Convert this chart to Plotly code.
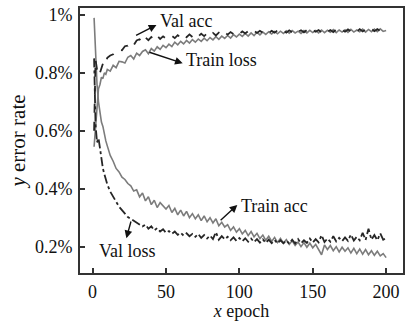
import plotly.graph_objects as go

# x positions (epochs)
epochs = list(range(1, 11)) + list(range(12, 201, 2))

train_loss = [
    0.545, 0.625, 0.700, 0.745, 0.760, 0.785, 0.780, 0.800, 0.795, 0.812,
    0.806, 0.826, 0.818, 0.840, 0.838, 0.834, 0.854, 0.860, 0.848, 0.868,
    0.860, 0.874, 0.880, 0.866, 0.884, 0.875, 0.890, 0.881, 0.895, 0.887,
    0.899, 0.891, 0.906, 0.897, 0.909, 0.900, 0.912, 0.903, 0.915, 0.906,
    0.917, 0.909, 0.920, 0.911, 0.922, 0.914, 0.925, 0.916, 0.927, 0.919,
    0.929, 0.920, 0.932, 0.924, 0.934, 0.926, 0.936, 0.927, 0.938, 0.929,
    0.940, 0.931, 0.941, 0.933, 0.942, 0.934, 0.943, 0.935, 0.944, 0.936,
    0.945, 0.937, 0.946, 0.938, 0.944, 0.936, 0.946, 0.938, 0.947, 0.939,
    0.946, 0.938, 0.948, 0.939, 0.947, 0.940, 0.949, 0.939, 0.948, 0.941,
    0.949, 0.940, 0.950, 0.941, 0.948, 0.942, 0.951, 0.941, 0.950, 0.942,
    0.951, 0.942, 0.952, 0.943, 0.946,
]

val_acc = [
    0.600, 0.845, 0.812, 0.792, 0.800, 0.818, 0.832, 0.842, 0.836, 0.852,
    0.860, 0.864, 0.875, 0.880, 0.878, 0.892, 0.894, 0.905, 0.896, 0.912,
    0.916, 0.906, 0.922, 0.913, 0.924, 0.915, 0.928, 0.917, 0.926, 0.918,
    0.919, 0.928, 0.920, 0.930, 0.922, 0.932, 0.923, 0.933, 0.924, 0.934,
    0.926, 0.935, 0.927, 0.936, 0.928, 0.938, 0.929, 0.939, 0.931, 0.940,
    0.932, 0.941, 0.934, 0.942, 0.935, 0.943, 0.936, 0.944, 0.937, 0.945,
    0.938, 0.945, 0.939, 0.946, 0.938, 0.945, 0.939, 0.947, 0.940, 0.946,
    0.939, 0.947, 0.940, 0.948, 0.941, 0.947, 0.940, 0.948, 0.941, 0.949,
    0.942, 0.948, 0.940, 0.949, 0.942, 0.948, 0.941, 0.950, 0.943, 0.949,
    0.942, 0.950, 0.943, 0.949, 0.942, 0.951, 0.943, 0.950, 0.944, 0.952,
    0.944, 0.951, 0.945, 0.952, 0.948,
]

train_acc = [
    0.990, 0.850, 0.760, 0.700, 0.665, 0.630, 0.615, 0.585, 0.565, 0.548,
    0.515, 0.495, 0.470, 0.458, 0.440, 0.432, 0.418, 0.410, 0.392, 0.396,
    0.372, 0.385, 0.358, 0.372, 0.345, 0.360, 0.335, 0.352, 0.340, 0.330,
    0.342, 0.318, 0.332, 0.310, 0.326, 0.306, 0.322, 0.300, 0.314, 0.296,
    0.310, 0.290, 0.306, 0.286, 0.300, 0.282, 0.296, 0.272, 0.284, 0.268,
    0.276, 0.256, 0.268, 0.250, 0.262, 0.244, 0.256, 0.238, 0.252, 0.234,
    0.246, 0.228, 0.240, 0.222, 0.236, 0.218, 0.232, 0.214, 0.228, 0.212,
    0.224, 0.208, 0.220, 0.204, 0.216, 0.200, 0.214, 0.198, 0.212, 0.196,
    0.208, 0.192, 0.172, 0.206, 0.190, 0.204, 0.186, 0.200, 0.182, 0.198,
    0.184, 0.196, 0.178, 0.194, 0.176, 0.192, 0.174, 0.190, 0.172, 0.186,
    0.170, 0.184, 0.168, 0.176, 0.162,
]

val_loss = [
    0.850, 0.620, 0.560, 0.575, 0.540, 0.500, 0.470, 0.450, 0.430, 0.415,
    0.390, 0.372, 0.352, 0.338, 0.326, 0.312, 0.302, 0.296, 0.290, 0.282,
    0.278, 0.270, 0.276, 0.262, 0.270, 0.256, 0.264, 0.252, 0.260, 0.248,
    0.254, 0.244, 0.252, 0.241, 0.248, 0.238, 0.246, 0.236, 0.244, 0.234,
    0.244, 0.230, 0.240, 0.228, 0.238, 0.226, 0.250, 0.224, 0.236, 0.225,
    0.234, 0.222, 0.232, 0.220, 0.230, 0.219, 0.229, 0.217, 0.228, 0.216,
    0.226, 0.214, 0.225, 0.213, 0.224, 0.212, 0.223, 0.211, 0.222, 0.212,
    0.221, 0.210, 0.224, 0.211, 0.226, 0.212, 0.222, 0.213, 0.228, 0.214,
    0.226, 0.215, 0.240, 0.216, 0.228, 0.217, 0.236, 0.218, 0.230, 0.219,
    0.232, 0.220, 0.242, 0.221, 0.234, 0.222, 0.248, 0.223, 0.262, 0.224,
    0.240, 0.222, 0.246, 0.224, 0.230,
]

x_ticks = [0, 50, 100, 150, 200]
y_ticks = [0.2, 0.4, 0.6, 0.8, 1.0]
y_tick_text = ["0.2%", "0.4%", "0.6%", "0.8%", "1%"]

# labels: (text, text_x, text_y, anchor, arrow_tail_x, arrow_tail_y, arrow_head_x, arrow_head_y)
labels = [
    ("Val acc", 44.5, 0.978, "left", 28.6, 0.927, 43.5, 0.965),
    ("Train loss", 62.5, 0.845, "left", 37.7, 0.873, 61.4, 0.833),
    ("Train acc", 99.5, 0.340, "left", 86.2, 0.286, 98.6, 0.344),
    ("Val loss", 24.0, 0.186, "center", 26.4, 0.292, 23.0, 0.229),
]

FONT = "Liberation Serif, Times New Roman, serif"

fig = go.Figure()
fig.add_trace(go.Scatter(x=epochs, y=train_acc, mode="lines", name="Train acc",
                         line=dict(color="#7c7c7c", width=1.6)))
fig.add_trace(go.Scatter(x=epochs, y=train_loss, mode="lines", name="Train loss",
                         line=dict(color="#7c7c7c", width=1.6)))
fig.add_trace(go.Scatter(x=epochs, y=val_loss, mode="lines", name="Val loss",
                         line=dict(color="#262626", width=1.8, dash="dashdot")))
fig.add_trace(go.Scatter(x=epochs, y=val_acc, mode="lines", name="Val acc",
                         line=dict(color="#262626", width=1.8, dash="dash")))

for text, tx, ty, anc, ax0, ay0, hx, hy in labels:
    fig.add_annotation(x=hx, y=hy, ax=ax0, ay=ay0, xref="x", yref="y",
                       axref="x", ayref="y", text="", showarrow=True,
                       arrowhead=2, arrowsize=1.1, arrowwidth=1.4,
                       arrowcolor="#111111")
    fig.add_annotation(x=tx, y=ty, xref="x", yref="y", text=text,
                       showarrow=False, xanchor=anc, yanchor="middle",
                       font=dict(family=FONT, size=18, color="#111111"))

fig.update_layout(
    width=407, height=326,
    margin=dict(l=80, r=2, t=8, b=53),
    paper_bgcolor="white", plot_bgcolor="white",
    showlegend=False,
    font=dict(family=FONT, size=18, color="#111111"),
)
fig.update_xaxes(
    range=[-8.6, 211.5], tickvals=x_ticks, ticks="inside", ticklen=5,
    tickwidth=1.5, tickcolor="#333333", showgrid=False, zeroline=False,
    showline=True, linecolor="#333333", linewidth=1.8, mirror=True,
    ticklabelstandoff=1,
    title=dict(text="<i>x</i> epoch", standoff=4,
               font=dict(family=FONT, size=18)),
)
fig.update_yaxes(
    range=[0.109, 1.024], tickvals=y_ticks, ticktext=y_tick_text,
    ticks="inside", ticklen=5, tickwidth=1.5, tickcolor="#333333",
    showgrid=False, zeroline=False, showline=True, linecolor="#333333",
    linewidth=1.8, mirror=True, ticklabelstandoff=2,
    title=dict(text="<i>y</i> error rate", standoff=4,
               font=dict(family=FONT, size=21)),
)

fig.write_html("out.html")
